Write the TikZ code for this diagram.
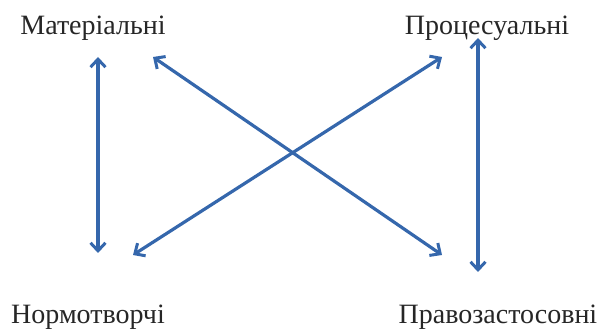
\documentclass[tikz,border=0pt]{standalone}
\usepackage{fontspec}
\setmainfont{Liberation Serif}
\usetikzlibrary{arrows.meta}
\definecolor{arrowblue}{HTML}{3567AC}
\tikzset{
  lbl/.style={inner sep=0pt, font=\fontsize{28}{32}\selectfont, text=black!85},
  link/.style={draw=arrowblue, line width=3.2pt, {Straight Barb[length=8pt,width=15pt,line width=3pt]}-{Straight Barb[length=8pt,width=15pt,line width=3pt]}}
}
\begin{document}
\begin{tikzpicture}[x=1pt,y=1pt]
\useasboundingbox (0,0) rectangle (601,334);
\node[lbl] (mat) at (93,306) {Матеріальні};
\node[lbl] (pro) at (487,306) {Процесуальні};
\node[lbl] (nor) at (88,17) {Нормотворчі};
\node[lbl] (pra) at (498,17) {Правозастосовні};
\coordinate (a1) at (98,277);
\coordinate (a2) at (98,81);
\coordinate (b1) at (478,296);
\coordinate (b2) at (478,62);
\coordinate (c1) at (153,277);
\coordinate (c2) at (442,79);
\coordinate (d1) at (442,277);
\coordinate (d2) at (133,79);
\draw[link] (a1) -- (a2);
\draw[link] (b1) -- (b2);
\draw[link] (c1) -- (c2);
\draw[link] (d1) -- (d2);
\end{tikzpicture}
\end{document}
